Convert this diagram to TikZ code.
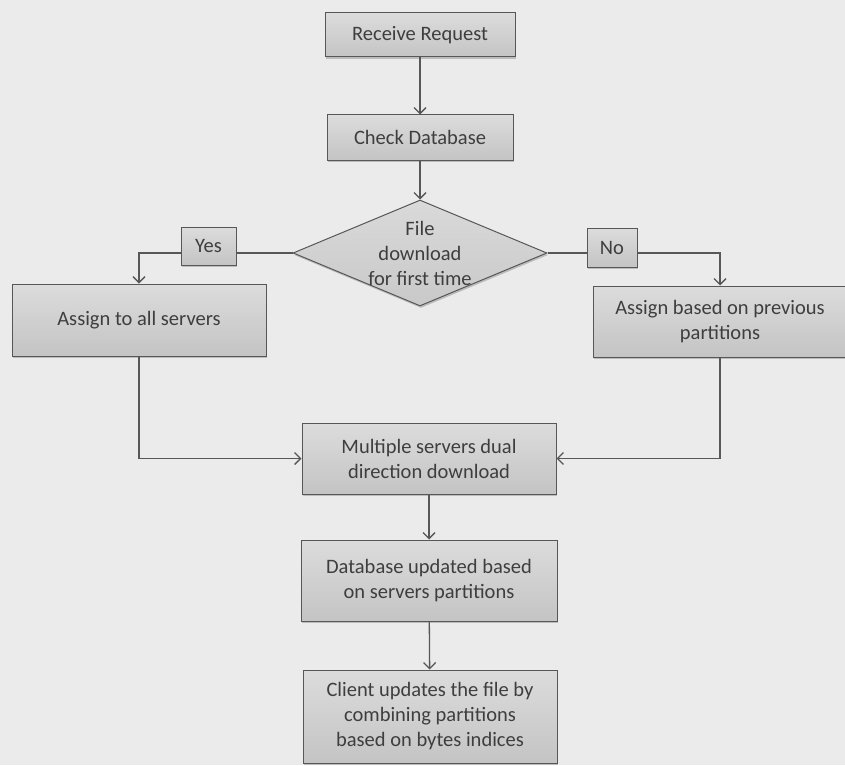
\documentclass[tikz,border=0pt]{standalone}
\usepackage{fontspec}
\setmainfont{Carlito}
\usetikzlibrary{arrows.meta,shapes.geometric,shadows}
\definecolor{bgcol}{HTML}{EBEBEB}
\definecolor{boxtop}{HTML}{DCDCDC}
\definecolor{boxbot}{HTML}{C4C4C4}
\definecolor{linecol}{HTML}{575757}
\definecolor{txtcol}{HTML}{3E3E3E}
\tikzset{
  flowbox/.style={draw=linecol, line width=1pt, top color=boxtop, bottom color=boxbot,
    text=txtcol, align=center, inner sep=0pt,
    font=\fontsize{20.5}{25}\selectfont,
    drop shadow={shadow xshift=1pt, shadow yshift=-2pt, opacity=0.35, fill=black!60}},
  decbox/.style={flowbox, diamond, top color=boxtop!90!boxbot, bottom color=boxbot!80!boxtop},
  flowtxt/.style={text=txtcol, align=center, inner sep=0pt, font=\fontsize{20.5}{25}\selectfont},
  flow/.style={draw=linecol, line width=1.3pt, -{Straight Barb[length=6pt,width=12pt]}},
  plain/.style={draw=linecol, line width=1.3pt}}

\begin{document}
\begin{tikzpicture}[x=1pt,y=-1pt]
    \fill[bgcol] (0,0) rectangle (845,765);
    \useasboundingbox (0,0) rectangle (845,765);
    % main column
    \node[flowbox, minimum width=190pt, minimum height=44pt] (recv) at (420,35) {Receive Request};
    \node[flowbox, minimum width=186pt, minimum height=45pt] (check) at (420,137.5) {Check Database};
    \node[decbox, minimum width=254pt, minimum height=106pt] (dec) at (420,253) {};
    \node[flowtxt] (dectxt) at (dec.center) {File\\download\\for first time};
    % branches
    \node[flowbox, minimum width=55pt, minimum height=38pt] (yes) at (208.5,246) {Yes};
    \node[flowbox, minimum width=50pt, minimum height=39pt] (no) at (612,247.5) {No};
    \node[flowbox, minimum width=254pt, minimum height=72pt] (allsrv) at (139,320) {Assign to all servers};
    \node[flowbox, minimum width=254pt, minimum height=71pt] (prevpart) at (720,321.5) {Assign based on previous\\partitions};
    % lower column
    \node[flowbox, minimum width=254pt, minimum height=71pt] (multi) at (429,458.5) {Multiple servers dual\\direction download};
    \node[flowbox, minimum width=256pt, minimum height=81pt] (dbup) at (429,580.5) {Database updated based\\on servers partitions};
    \node[flowbox, minimum width=254pt, minimum height=93pt] (client) at (430,716.5) {Client updates the file by\\combining partitions\\based on bytes indices};

    \draw[flow] (recv) -- (check);
    \draw[flow] (check) -- (dec.north);
    \draw[plain] (dec.west) -- (dec.west -| yes.east);
    \draw[flow] (yes.west |- dec.west) -| (allsrv.north);
    \draw[plain] (dec.east) -- (dec.east -| no.west);
    \draw[flow] (no.east |- dec.east) -| (prevpart.north);
    \draw[flow] (allsrv.south) |- (multi.west);
    \draw[flow] (prevpart.south) |- (multi.east);
    \draw[flow] (multi) -- (dbup);
    \draw[flow] (dbup) -- (client);
  \end{tikzpicture}
\end{document}
